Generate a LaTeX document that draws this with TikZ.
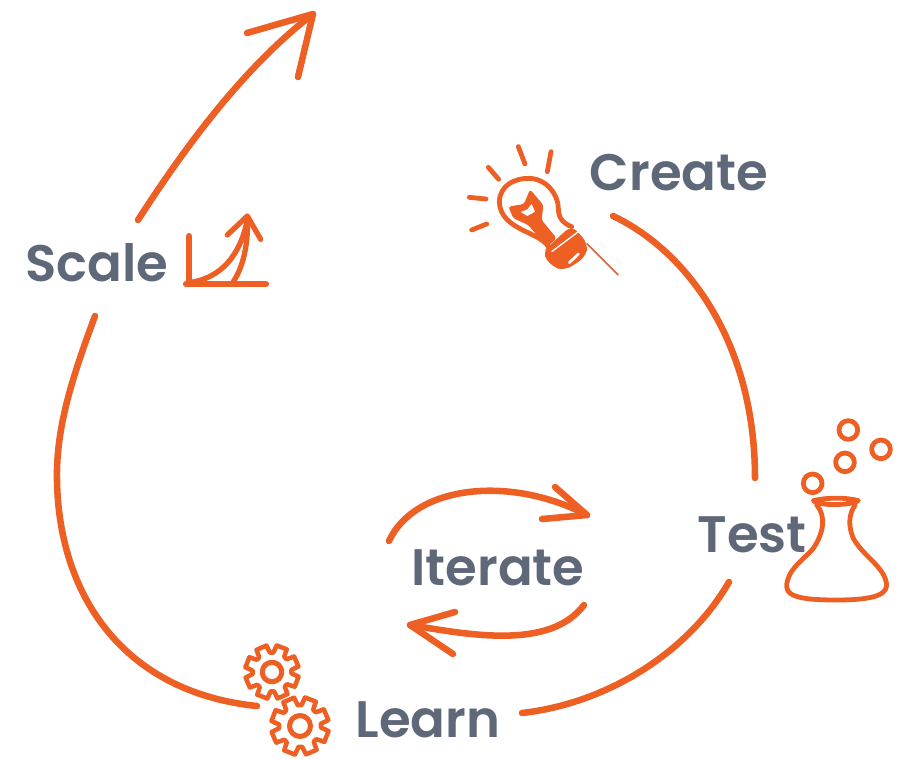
\documentclass[tikz,border=0pt]{standalone}
\usepackage{fontspec}
\setmainfont{Poppins}[BoldFont={Poppins SemiBold}]
\definecolor{brandorange}{HTML}{EE5F24}
\definecolor{labelgray}{HTML}{5F6879}
\tikzset{
  flow/.style={draw=brandorange,line width=4.9pt,line cap=round,line join=round},
  label/.style={text=labelgray,font=\fontsize{38.5}{44}\selectfont\bfseries,inner sep=0pt,anchor=center},
  icon/.style={draw=brandorange,line width=3.6pt,line cap=round,line join=round},
  ray/.style={draw=brandorange,line width=3.6pt,line cap=round},
  pics/gear/.style={code={
    \draw[icon,line width=3.4pt] (0:#1*.72)
      \foreach \a in {0,45,...,315}{
        -- ({\a+4}:#1*.72) -- ({\a+10}:#1) -- ({\a+33}:#1) -- ({\a+39}:#1*.72)
      } -- cycle;
    \draw[icon,line width=3.8pt] (0,0) circle ({#1*.36});
  }}
}
\begin{document}
\begin{tikzpicture}[x=.75pt,y=-.75pt]
\useasboundingbox (0,0) rectangle (908,760);
% labels
\node[label] (scale) at (97,263) {Scale};
\node[label] (create) at (679,173) {Create};
\node[label] (test) at (752,535) {Test};
\node[label] (iterate) at (498,568) {Iterate};
\node[label] (learn) at (428,720) {Learn};
% connector end points
\coordinate (createEnd) at (613,216);
\coordinate (testTop) at (755,478);
\coordinate (testEnd) at (729,582);
\coordinate (learnRight) at (522,713);
\coordinate (learnLeft) at (257,706);
\coordinate (scaleBottom) at (95,316);
\coordinate (scaleTop) at (138,220);
\coordinate (growthTip) at (313,14);
\coordinate (iterTopStart) at (389,541);
\coordinate (iterTopTip) at (587,515);
\coordinate (iterBotStart) at (584,605);
\coordinate (iterBotTip) at (410,625);
% main loop
\draw[flow] (createEnd) .. controls (685,250) and (755,340) .. (testTop);
\draw[flow] (testEnd) .. controls (690,650) and (610,703) .. (learnRight);
\draw[flow] (learnLeft) .. controls (120,692) and (55,590) .. (57,470)
   .. controls (58,420) and (75,370) .. (scaleBottom);
\draw[flow] (scaleTop) .. controls (180,155) and (240,70) .. (growthTip);
\draw[flow] (247,33) -- (growthTip) -- (298,77);
% iterate
\draw[flow] (iterTopStart) .. controls (415,485) and (510,475) .. (iterTopTip);
\draw[flow] (555,487) -- (iterTopTip) -- (542,519);
\draw[flow] (iterBotStart) .. controls (550,650) and (470,635) .. (iterBotTip);
\draw[flow] (453,654) -- (iterBotTip) -- (455,612);
% scale icon
\begin{scope}[shift={(170,200)},x=.25pt,y=-.25pt]
  \draw[icon,line width=4.6pt] (58,108) -- (58,250);
  \draw[icon,line width=4.6pt] (48,252) -- (288,252);
  \draw[icon,line width=4pt] (58,248) .. controls (150,235) and (210,170) .. (232,60);
  \draw[icon,line width=4pt] (190,245) .. controls (220,200) and (235,130) .. (232,60);
  \draw[icon,line width=4pt] (172,105) -- (232,48) -- (272,118);
\end{scope}
% bulb icon
\begin{scope}[shift={(450,130)},x=.25pt,y=-.25pt]
  \draw[ray] (205,50) -- (225,102);
  \draw[ray] (303,65) -- (292,125);
  \draw[ray] (115,112) -- (146,148);
  \draw[ray] (58,202) -- (108,207);
  \draw[ray] (65,300) -- (110,282);
  \draw[icon] (295,350) .. controls (270,305) and (150,300) .. (148,215)
     .. controls (150,165) and (195,145) .. (235,145)
     .. controls (290,145) and (325,195) .. (325,235)
     .. controls (325,265) and (340,280) .. (365,290);
  \fill[brandorange,rounded corners=6pt] (365,286) -- (414,340) -- (408,380) -- (345,422) -- (305,410) -- (276,368)
     -- (300,345) -- cycle;
  \draw[white,line width=1pt] (305,365) -- (385,305);
  \draw[white,line width=2pt,line cap=round] (358,398) -- (385,372);
  \draw[brandorange!75!gray,line width=1.2pt] (410,340) -- (505,435);
  \fill[brandorange,rounded corners=2pt] (320,325) -- (275,270) -- (280,225) -- (240,178) -- (222,222) -- (175,230)
     -- (190,265) -- (235,285) -- (290,352) -- cycle;
  \fill[white] (245,222) -- (255,245) -- (232,258) -- (212,246) -- (232,238) -- cycle;
\end{scope}
% flask icon
\begin{scope}[shift={(770,410)},x=.25pt,y=-.25pt]
  \draw[icon] (235,60) circle (28);
  \draw[icon] (333,118) circle (28);
  \draw[icon] (225,157) circle (28);
  \draw[icon] (128,220) circle (28);
  \draw[icon] (130,272) .. controls (170,262) and (230,262) .. (265,272)
     .. controls (250,285) and (150,290) .. cycle;
  \draw[icon] (140,285) .. controls (170,320) and (160,370) .. (130,415)
     .. controls (100,450) and (50,480) .. (50,530)
     .. controls (50,565) and (120,570) .. (200,570)
     .. controls (290,570) and (350,560) .. (350,525)
     .. controls (345,470) and (280,440) .. (250,385)
     .. controls (235,350) and (235,315) .. (255,285);
\end{scope}
% gears
\pic at (272,672) {gear=27};
\pic at (300,726) {gear=29};
\end{tikzpicture}
\end{document}
